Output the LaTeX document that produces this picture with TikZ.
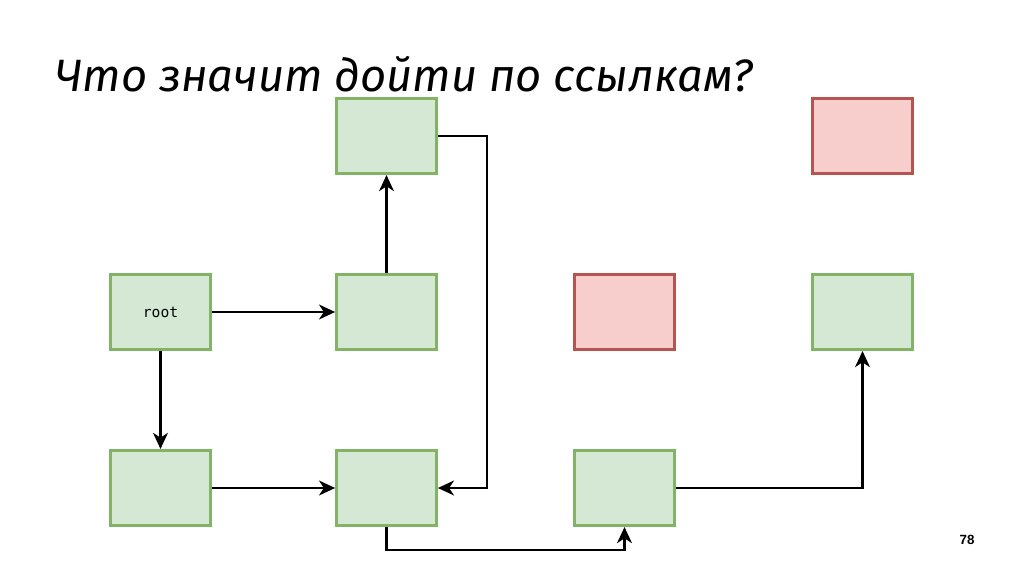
\documentclass[tikz,border=0pt]{standalone}
\usepackage{fontspec}
\setmainfont{Liberation Sans}
\setmonofont{DejaVu Sans Mono}
\newfontfamily\titlefont{Fira Sans Italic}
\usetikzlibrary{arrows.meta}
\definecolor{gfill}{HTML}{D5E8D4}
\definecolor{gdraw}{HTML}{82B366}
\definecolor{rfill}{HTML}{F8CECC}
\definecolor{rdraw}{HTML}{B85450}
\tikzset{
  gbox/.style={draw=gdraw,fill=gfill,line width=2pt,minimum width=75pt,minimum height=56.5pt,inner sep=0pt,font=\ttfamily\fontsize{11}{13}\selectfont},
  rbox/.style={draw=rdraw,fill=rfill,line width=2pt,minimum width=75pt,minimum height=56.5pt,inner sep=0pt},
  conn/.style={line width=2.2pt,-{Stealth[length=12pt,width=11pt,inset=3.5pt]}}
}
\begin{document}
\begin{tikzpicture}[x=0.75pt,y=-0.75pt]
\useasboundingbox (0,0) rectangle (1024,574);
\node[anchor=base west,inner sep=0pt,font=\titlefont\fontsize{34}{38}\selectfont] (title) at (55,92) {Что значит дойти по ссылкам?};
\node[gbox] (top) at (386.5,136) {};
\node[gbox] (root) at (160.5,312) {root};
\node[gbox] (mid) at (386.5,312) {};
\node[gbox] (bl) at (160.5,488) {};
\node[gbox] (bm) at (386.5,488) {};
\node[gbox] (br) at (624.5,488) {};
\node[rbox] (rm) at (624.5,312) {};
\node[gbox] (fr) at (862.5,312) {};
\node[rbox] (tr) at (862.5,136) {};
\node[font=\bfseries\fontsize{10}{12}\selectfont] (num) at (967,540) {78};
\draw[conn] (root.east) -- (mid.west);
\draw[conn] (mid.north) -- (top.south);
\draw[conn] (root.south) -- (bl.north);
\draw[conn] (bl.east) -- (bm.west);
\draw[conn] (top.east) -- (487,136) -- (487,488) -- (bm.east);
\draw[conn] (bm.south) -- (386.5,550) -- (624.5,550) -- (br.south);
\draw[conn] (br.east) -- (862.5,488) -- (fr.south);
\end{tikzpicture}
\end{document}
